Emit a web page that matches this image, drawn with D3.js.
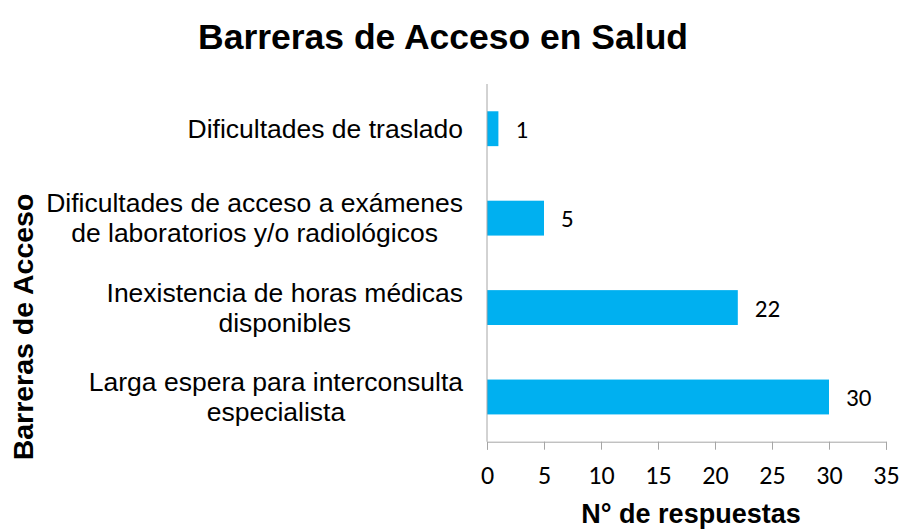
<!DOCTYPE html>
<html>
<head>
<meta charset="utf-8">
<script src="https://cdn.jsdelivr.net/npm/d3@7"></script>
<style>
  body { margin: 0; background: #fff; }
</style>
</head>
<body>
<div id="chart"></div>
<script>
// DATA
const categories = [
  ["Dificultades de traslado"],
  ["Dificultades de acceso a exámenes", "de laboratorios y/o radiológicos"],
  ["Inexistencia de horas médicas", "disponibles"],
  ["Larga espera para interconsulta", "especialista"]
];
const values = [1, 5, 22, 30];
const xTicks = [0, 5, 10, 15, 20, 25, 30, 35];

const width = 901;
const height = 529;
const plotTop = 84;
const plotBottom = 441.7;

const svg = d3.select("#chart")
  .append("svg")
  .attr("width", width)
  .attr("height", height);

const x = d3.scaleLinear()
  .domain([0, 35])
  .range([487, 886]);

const y = d3.scaleBand()
  .domain(d3.range(categories.length))
  .range([plotTop, plotBottom])
  .paddingInner(0.61)
  .paddingOuter(0.305);

const arial = "Liberation Sans, Arial, sans-serif";
const calibri = "Carlito, Lato, sans-serif";

// TITLE
svg.append("text")
  .attr("x", 443)
  .attr("y", 49)
  .attr("text-anchor", "middle")
  .style("font-family", arial)
  .style("font-weight", "bold")
  .style("font-size", "35.5px")
  .text("Barreras de Acceso en Salud");

// BARS
svg.selectAll("rect.bar")
  .data(values)
  .enter()
  .append("rect")
  .attr("class", "bar")
  .attr("x", x(0))
  .attr("y", (d, i) => y(i))
  .attr("width", d => x(d) - x(0))
  .attr("height", y.bandwidth())
  .attr("fill", "#00B0F0");

// VALUE LABELS
svg.selectAll("text.val")
  .data(values)
  .enter()
  .append("text")
  .attr("class", "val")
  .attr("x", d => x(d) + 17)
  .attr("y", (d, i) => y(i) + y.bandwidth() / 2 + 9)
  .style("font-family", calibri)
  .style("font-size", "25px")
  .text(d => d);

// X AXIS
const xAxis = svg.append("g")
  .attr("transform", `translate(0,${plotBottom})`)
  .call(d3.axisBottom(x).tickValues(xTicks).tickSize(8).tickPadding(16));

xAxis.select(".domain").attr("stroke", "#a6a6a6");
xAxis.selectAll(".tick line").attr("stroke", "#a6a6a6");
xAxis.selectAll("text")
  .style("font-family", calibri)
  .style("font-size", "26px")
  .attr("fill", "#000");

// Y AXIS LINE
svg.append("line")
  .attr("x1", x(0))
  .attr("x2", x(0))
  .attr("y1", plotTop)
  .attr("y2", plotBottom)
  .attr("stroke", "#a6a6a6");

// CATEGORY LABELS (centered lines, block right-aligned)
const catSize = 26.5;
svg.selectAll("text.cat")
  .data(categories)
  .enter()
  .append("text")
  .attr("class", "cat")
  .style("font-family", arial)
  .style("font-size", catSize + "px")
  .attr("text-anchor", "middle")
  .each(function(lines, i) {
    const t = d3.select(this);
    const cy = y(i) + y.bandwidth() / 2;
    const lh = 30;
    const tmp = svg.append("text")
      .style("font-family", arial)
      .style("font-size", catSize + "px");
    let w = 0;
    lines.forEach(l => {
      tmp.text(l);
      w = Math.max(w, tmp.node().getComputedTextLength());
    });
    tmp.remove();
    const cx = 463 - w / 2;
    lines.forEach((l, k) => {
      t.append("tspan")
        .attr("x", cx)
        .attr("y", cy + 9 + (k - (lines.length - 1) / 2) * lh)
        .text(l);
    });
  });

// AXIS TITLES
svg.append("text")
  .attr("x", 691)
  .attr("y", 523)
  .attr("text-anchor", "middle")
  .style("font-family", arial)
  .style("font-weight", "bold")
  .style("font-size", "27px")
  .text("N° de respuestas");

svg.append("text")
  .attr("transform", "translate(33,327) rotate(-90)")
  .attr("text-anchor", "middle")
  .style("font-family", arial)
  .style("font-weight", "bold")
  .style("font-size", "28.5px")
  .text("Barreras de Acceso");
</script>
</body>
</html>
